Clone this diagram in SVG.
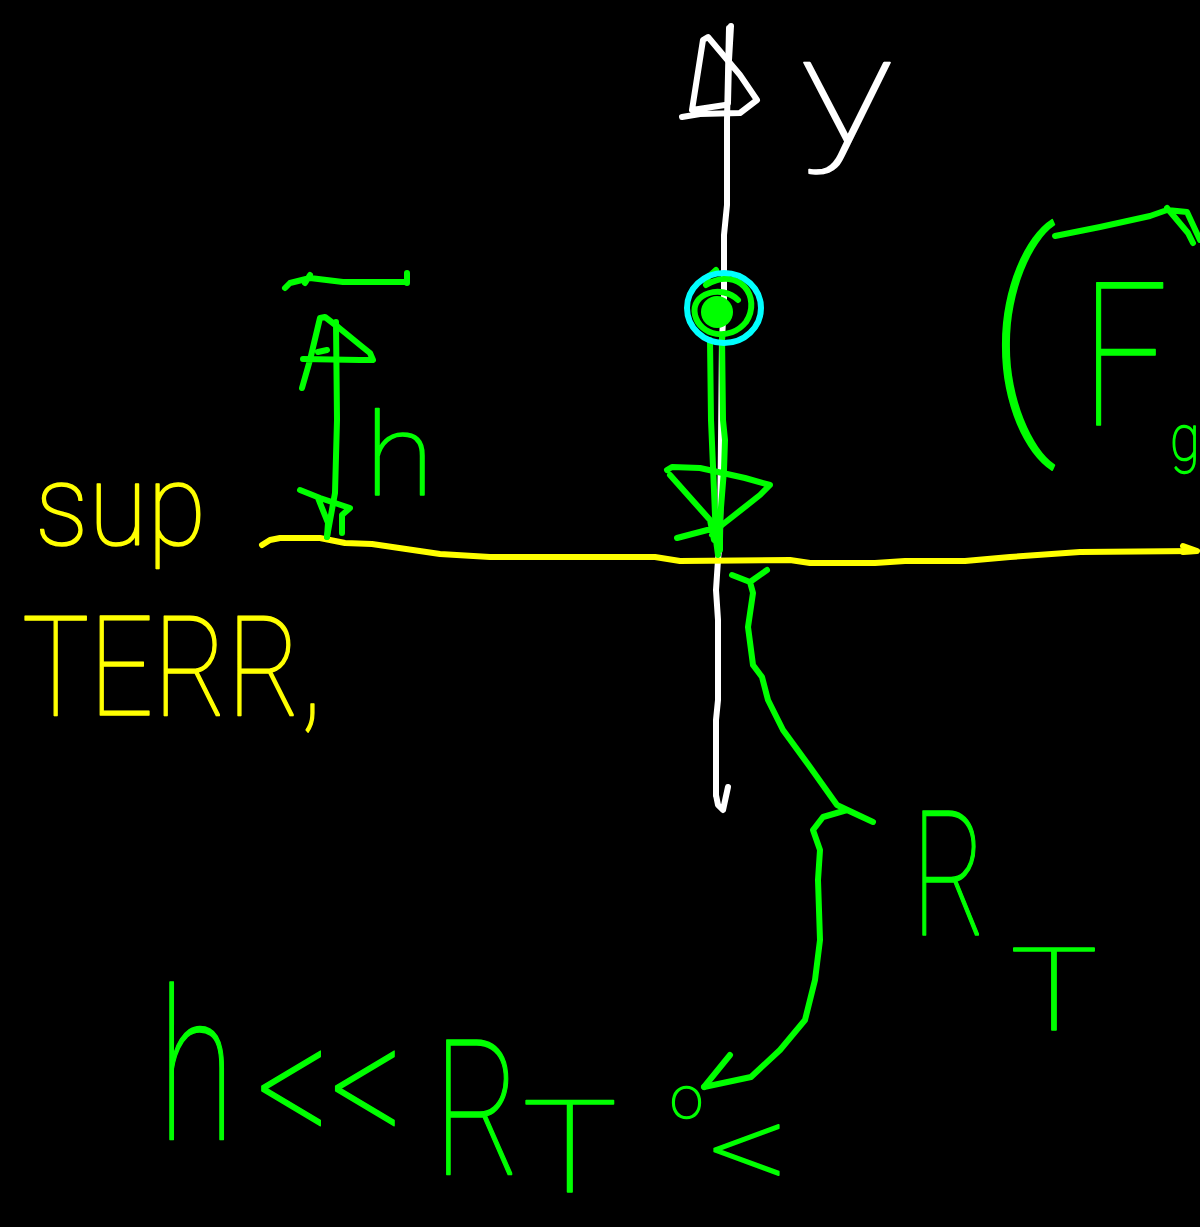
<svg xmlns="http://www.w3.org/2000/svg" width="1200" height="1227" viewBox="0 0 1200 1227">
<style>
.s{fill:none;stroke-width:6;stroke-linecap:round;stroke-linejoin:round}
.w{stroke:#ffffff}.y{stroke:#ffff00}.g{stroke:#00ff00}.c{stroke:#00ffff}
.t{font-family:Roboto,"Liberation Sans",Arial,sans-serif;font-weight:100;stroke-width:1.5;stroke-linejoin:round}
.tg{fill:#00ff00;stroke:#00ff00}.ty{fill:#ffff00;stroke:#ffff00}.tw{fill:#ffffff;stroke:#ffffff}
</style>
<rect width="1200" height="1227" fill="#000000"/>
<g id="connectors">
<g id="y-axis">
<path class="s w" d="M716,795 L716,720 L718,700 L718,620 L716,590 L718,560 L720,540 L722,340 L724,300 L724,235 L727,205 L727,120 L729,28"/>
<path class="s w" d="M716,795 L718,805 L723,810 L728,787"/>
<path class="s w" d="M682,117 L700,114 L740,113 L757,100 L740,75 L708,37 L703,40 L692,110 L725,105 M731,26 L729,60 L728,103"/>
</g>
<g id="ground-line">
<path class="s y" d="M262,545 L270,540 L280,538 L320,538 L345,543 L372,544 L440,554 L490,557 L655,557 L680,561 L790,560 L810,563 L875,563 L905,561 L965,561 L1010,557 L1080,552 L1195,551"/>
<path class="s y" d="M1183,546 L1197,551 L1183,552"/>
</g>
<g id="weight-arrow">
<path class="s g" d="M710,340 L711,420 L714,490 L716,540 L718,555 M722,335 L723,420 L725,440 L724,470 L720,520 L720,550"/>
<path class="s g" d="M667,470 L672,467 L700,468 L745,478 L770,485 L760,495 L722,525 L712,535 M670,475 L710,520 L714,540 M677,538 L715,528"/>
</g>
<g id="h-arrow">
<path class="s g" d="M336,322 L337,420 L335,493 L327,537"/>
<path class="s g" d="M302,388 L310,360 L320,318 L325,317 L338,327 L360,345 L370,353 L373,360 L360,360 L303,359 M327,350 L318,352"/>
<path class="s g" d="M300,490 L320,498 L350,508 L342,515 L342,533 M318,498 L328,523 L327,537"/>
<path class="s g" d="M285,288 L290,283 L310,278 L343,282 L407,282 M407,273 L407,283 M305,283 L310,275"/>
</g>
<g id="radius-arrow">
<path class="s g" d="M732,575 L750,582 L767,570 M750,582 L753,593 L748,627 L753,665 L762,677 L768,700 L783,730 L810,767 L837,805 L873,822 L847,810 L823,817 L813,830 L820,850 L818,880 L820,940 L815,980 L805,1020 L780,1050 L751,1077 L704,1087"/>
<path class="s g" d="M730,1055 L704,1087"/>
</g>
<g id="vector-arrow">
<path class="s g" d="M1055,236 L1100,227 L1150,216 L1167,210 L1187,212 L1200,240 M1167,208 L1188,233 L1193,243"/>
</g>
</g>
<g id="mass">
<circle cx="717" cy="312" r="16" fill="#00ff00"/>
<path class="s g" d="M706,285 C740,265 762,298 746,322 C730,342 700,336 695,315 C690,293 722,284 738,300 M716,270 L705,280"/>
<ellipse class="s c" cx="724" cy="308" rx="37" ry="35"/>
</g>
<g id="label-y"><text class="t tw" transform="translate(800,142) scale(1.3,1)" font-size="150">y</text></g>
<g id="label-sup"><text class="t ty" transform="translate(35,545) scale(0.935,1)" font-size="115">sup</text></g>
<g id="label-terr"><text class="t ty" transform="translate(22,715) scale(0.805,1)" font-size="140">TERR,</text></g>
<g id="label-h"><text class="t tg" transform="translate(365,495) scale(1.1,1)" font-size="115">h</text></g>
<g id="label-RT">
<text class="t tg" transform="translate(912,935) scale(0.65,1)" font-size="175">R</text>
<text class="t tg" transform="translate(1010,1030) scale(1.28,1)" font-size="115">T</text>
</g>
<g id="label-Fg">
<text class="t tg" x="985" y="414" font-size="245">(</text>
<text class="t tg" transform="translate(1082,425) scale(0.75,1)" font-size="200">F</text>
<text class="t tg" transform="translate(1170,460) scale(0.85,1)" font-size="64">g</text>
</g>
<g id="label-condition">
<text class="t tg" transform="translate(158,1140) scale(0.67,1)" font-size="210">h</text>
<text class="t tg" transform="translate(256,1150) scale(0.756,1)" font-size="190">&lt;&lt;</text>
<text class="t tg" transform="translate(434,1175) scale(0.7,1)" font-size="190">R</text>
<text class="t tg" transform="translate(522,1192) scale(1.25,1)" font-size="128">T</text>
</g>
<g id="label-o"><text class="t tg" x="670" y="1118" font-size="60">o</text></g>
<g id="label-lt"><text class="t tg" transform="translate(708,1192) scale(1.23,1)" font-size="128">&lt;</text></g>
</svg>
